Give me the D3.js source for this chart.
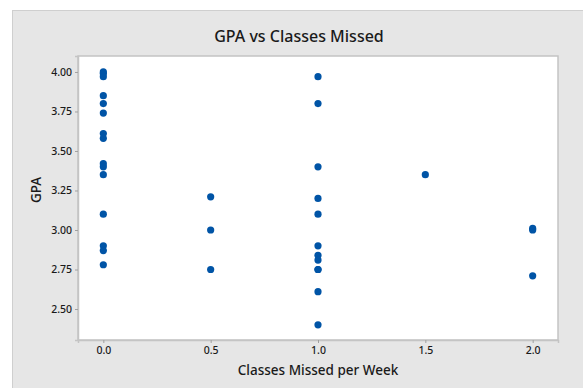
<!DOCTYPE html>
<html>
<head>
<meta charset="utf-8">
<script src="https://cdn.jsdelivr.net/npm/d3@7/dist/d3.min.js"></script>
<style>
  html, body { margin: 0; padding: 0; background: #ffffff; }
  svg { display: block; }
  text { font-family: "Noto Sans", "Open Sans", sans-serif; fill: #1a1a1a; }
</style>
</head>
<body>
<svg id="chart" width="583" height="388"></svg>
<script>
// Classes missed per week for each student
const classesMissed = [
  0, 0, 0, 0, 0, 0, 0, 0, 0, 0, 0, 0, 0, 0, 0,
  0.5, 0.5, 0.5,
  1, 1, 1, 1, 1, 1, 1, 1, 1, 1, 1, 1,
  1.5,
  2, 2, 2
];
// Grade point average for the same students
const gpa = [
  4.00, 3.99, 3.97, 3.85, 3.80, 3.74, 3.61, 3.58, 3.42, 3.40, 3.35, 3.10, 2.90, 2.87, 2.78,
  3.21, 3.00, 2.75,
  3.97, 3.80, 3.40, 3.20, 3.10, 2.90, 2.84, 2.81, 2.75, 2.75, 2.61, 2.40,
  3.35,
  3.01, 3.00, 2.71
];
const xTicks = [0, 0.5, 1, 1.5, 2];
const yTicks = [2.5, 2.75, 3.0, 3.25, 3.5, 3.75, 4.0];

const svg = d3.select("#chart");
const W = 583, H = 388;

// outer grey panel
svg.append("rect")
  .attr("x", 12.5).attr("y", 10.5)
  .attr("width", W).attr("height", H)
  .attr("fill", "#e6e6e6").attr("stroke", "#cfcfcf");

const plot = { left: 78, top: 56, right: 558, bottom: 340 };

const x = d3.scaleLinear().domain([-0.118, 2.118]).range([plot.left, plot.right]);
const y = d3.scaleLinear().domain([2.304, 4.101]).range([plot.bottom, plot.top]);

// plotting area
svg.append("rect")
  .attr("x", plot.left).attr("y", plot.top)
  .attr("width", plot.right - plot.left).attr("height", plot.bottom - plot.top)
  .attr("fill", "#ffffff").attr("stroke", "#c4c4c4").attr("stroke-width", 1.5);

const xAxis = svg.append("g")
  .attr("transform", `translate(0,${plot.bottom})`)
  .call(d3.axisBottom(x).tickValues(xTicks).tickFormat(d3.format(".1f")).tickSize(3).tickPadding(4));
const yAxis = svg.append("g")
  .attr("transform", `translate(${plot.left},0)`)
  .call(d3.axisLeft(y).tickValues(yTicks).tickFormat(d3.format(".2f")).tickSize(3).tickPadding(3));

[xAxis, yAxis].forEach(g => {
  g.select(".domain").attr("stroke", "#c4c4c4").attr("stroke-width", 1.5);
  g.selectAll(".tick line").attr("stroke", "#a0a0a0");
  g.selectAll(".tick text")
    .attr("fill", "#111111")
    .style("font-size", "10.5px")
    .style("font-weight", "500")
    .style("font-family", '"Noto Sans", sans-serif');
});

// points
svg.append("g").selectAll("circle")
  .data(d3.range(gpa.length))
  .join("circle")
  .attr("cx", i => x(classesMissed[i]))
  .attr("cy", i => y(gpa[i]))
  .attr("r", 3.6)
  .attr("fill", "#0054a6");

// title and axis labels
svg.append("text")
  .attr("x", 299).attr("y", 42)
  .attr("text-anchor", "middle")
  .style("font-size", "16px").style("font-weight", "500")
  .text("GPA vs Classes Missed");

svg.append("text")
  .attr("x", 318).attr("y", 375)
  .attr("text-anchor", "middle")
  .style("font-size", "13.5px").style("font-weight", "500")
  .text("Classes Missed per Week");

svg.append("text")
  .attr("transform", "translate(41,190) rotate(-90)")
  .attr("text-anchor", "middle")
  .style("font-size", "13.5px").style("font-weight", "500")
  .text("GPA");
</script>
</body>
</html>
